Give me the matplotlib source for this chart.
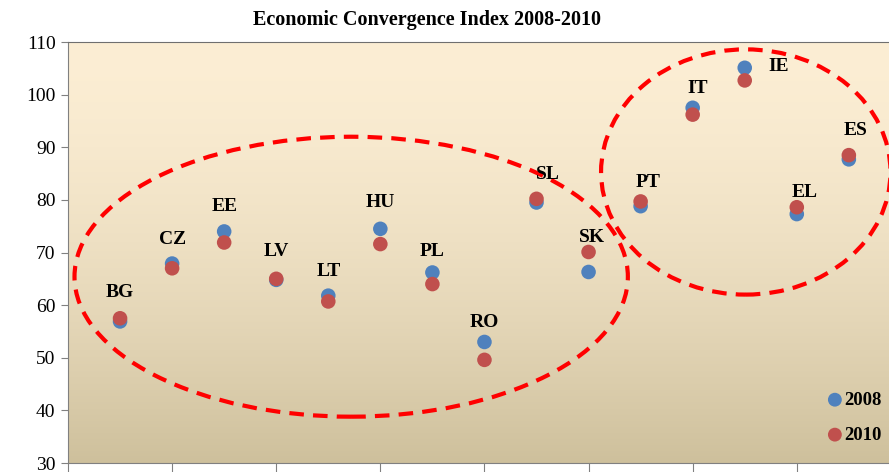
import numpy as np
import matplotlib
matplotlib.use("Agg")
import matplotlib.pyplot as plt
from matplotlib.patches import Ellipse

countries = ["BG", "CZ", "EE", "LV", "LT", "HU", "PL", "RO",
             "SL", "SK", "PT", "IT", "IE", "EL", "ES"]
idx_2008 = [56.9, 67.9, 74.0, 64.8, 61.8, 74.5, 66.2, 53.0,
            79.5, 66.3, 78.8, 97.5, 105.1, 77.3, 87.7]
idx_2010 = [57.5, 67.0, 71.9, 65.0, 60.7, 71.6, 64.0, 49.6,
            80.2, 70.1, 79.7, 96.2, 102.7, 78.6, 88.5]

# label offsets in pixels (dx, dy from the upper point)
label_off = {"BG": (0, 26), "CZ": (0, 24), "EE": (0, 25), "LV": (0, 27),
             "LT": (0, 24), "HU": (0, 26), "PL": (0, 21), "RO": (0, 19),
             "SL": (11, 24), "SK": (3, 14), "PT": (7, 19), "IT": (5, 19),
             "IE": (34, 1), "EL": (8, 15), "ES": (7, 25)}

W, H = 889, 472
fig = plt.figure(figsize=(W / 100, H / 100), dpi=100)
ax = fig.add_axes([68 / W, 1 - 463 / H, 1 - 68 / W + 0.001, (463 - 42) / H])

xs = np.arange(1, len(countries) + 1)

# gradient background
grad = np.linspace(0, 1, 256).reshape(-1, 1)
top = np.array([252, 238, 212]) / 255
bot = np.array([206, 192, 156]) / 255
g = grad ** 1.6
img = top * (1 - g) + bot * g
ax.imshow(img.reshape(256, 1, 3), extent=[0, 16, 30, 110], aspect="auto",
          zorder=0)
ax.set_xlim(0, (W - 68) / 52)
ax.set_ylim(30, 110)

ax.scatter(xs, idx_2008, s=110, color="#4F81BD", zorder=3, label="2008",
           edgecolors="none")
ax.scatter(xs, idx_2010, s=110, color="#C0504D", zorder=4, label="2010",
           edgecolors="none")

for i, c in enumerate(countries):
    top_v = max(idx_2008[i], idx_2010[i])
    dx, dy = label_off[c]
    ax.annotate(c, (xs[i], top_v), xytext=(dx * 0.72, dy * 0.72),
                textcoords="offset points", ha="center", va="center",
                fontsize=14, fontweight="bold", family="Liberation Serif",
                zorder=5)

ell_kw = dict(fill=False, edgecolor="#FF0000", lw=3,
              linestyle=(0, (3.5, 2.2)), zorder=2)
ax.add_patch(Ellipse((5.44, 65.4), 10.63, 53.2, **ell_kw))
ax.add_patch(Ellipse((13.02, 85.3), 5.56, 46.6, **ell_kw))

ax.set_xticks(np.arange(0, 16, 2))
ax.set_xticklabels([])
ax.set_yticks(np.arange(30, 111, 10))
ax.tick_params(axis="y", length=5, color="#808080", labelsize=14,
               pad=4)
ax.tick_params(axis="x", length=10, color="#808080")
for lab in ax.get_yticklabels():
    lab.set_family("Liberation Serif")

for s in ["left", "bottom", "top"]:
    ax.spines[s].set_color("#808080")
ax.spines["top"].set_color("#6f6f6f")
ax.spines["right"].set_visible(False)

leg = ax.legend(loc="upper left", bbox_to_anchor=(818 / W, 1 - 384 / H),
                bbox_transform=fig.transFigure, frameon=False,
                prop={"family": "Liberation Serif", "weight": "bold",
                      "size": 13.5},
                handletextpad=0.0, labelspacing=0.95, handlelength=1.0,
                borderaxespad=0, markerscale=0.95)

fig.text(427 / W, 1 - 20 / H, "Economic Convergence Index 2008-2010",
         ha="center", va="center", fontsize=14.5, fontweight="bold",
         family="Liberation Serif")

fig.savefig("out.png", dpi=100)
